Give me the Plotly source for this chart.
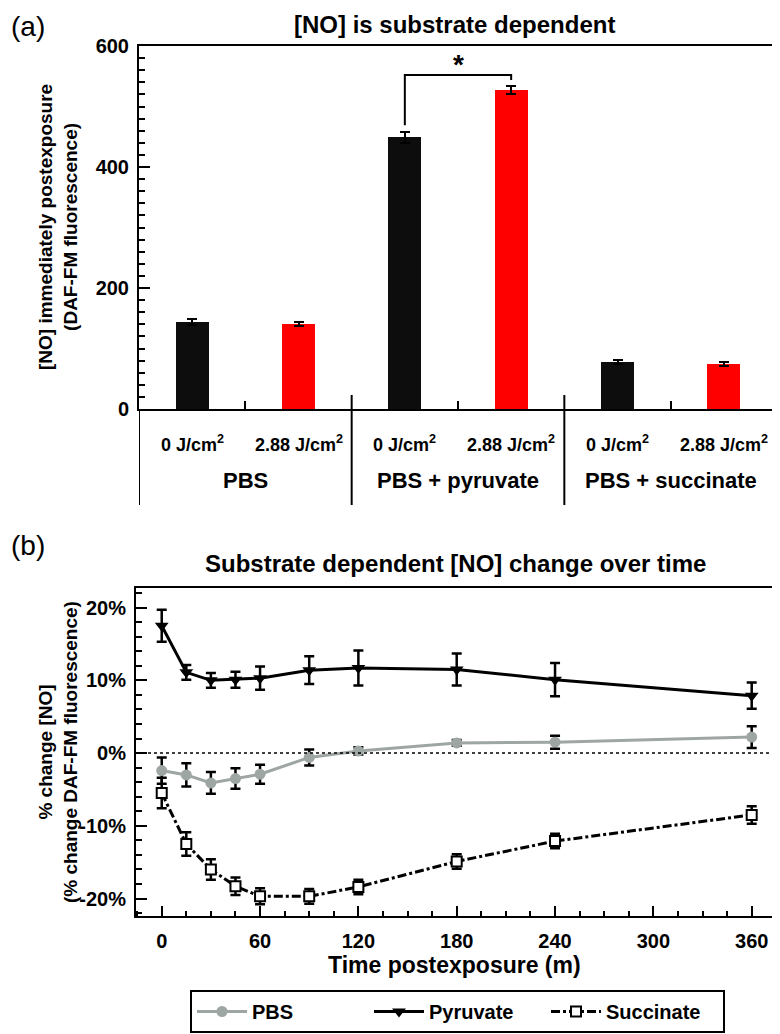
import plotly.graph_objects as go

# panel (a): [NO] immediately after exposure
groups = ["PBS", "PBS + pyruvate", "PBS + succinate"]
doses = ["0 J/cm<sup>2</sup>", "2.88 J/cm<sup>2</sup>"]
no_dark = [144, 449, 78]
no_dark_err = [5, 9, 3]
no_irr = [141, 527, 74]
no_irr_err = [3, 7, 3]

# panel (b): % change over time
time_min = [0, 15, 30, 45, 60, 90, 120, 180, 240, 360]
pbs = [-2.4, -3.0, -4.1, -3.5, -2.9, -0.6, 0.3, 1.4, 1.5, 2.2]
pbs_err = [1.8, 1.6, 1.5, 1.4, 1.3, 1.1, 0.5, 0.4, 0.9, 1.5]
pyruvate = [17.5, 11.1, 10.0, 10.1, 10.3, 11.4, 11.7, 11.5, 10.1, 7.9]
pyruvate_err = [2.2, 1.0, 1.0, 1.1, 1.6, 1.9, 2.4, 2.2, 2.3, 1.8]
succinate = [-5.5, -12.5, -16.0, -18.3, -19.7, -19.7, -18.4, -14.9, -12.1, -8.5]
succinate_err = [2.1, 1.6, 1.4, 1.2, 1.1, 1.0, 1.0, 1.0, 1.0, 1.2]
pct_ticks = [-20, -10, 0, 10, 20]

# page is 780x1034, the body has an 8px margin before the figure starts
W, H, OFF = 780, 1034, 8
FW, FH = W - OFF, H - OFF
FONT = "Liberation Sans, Arial, sans-serif"


def px(x):
    return (x - OFF) / FW


def py(y):
    return 1 - (y - OFF) / FH


fig = go.Figure()

x_dark = [2 * i for i in range(len(groups))]
x_irr = [2 * i + 1 for i in range(len(groups))]

fig.add_trace(go.Bar(
    x=x_dark, y=no_dark, width=0.31, marker=dict(color="#0d0d0d", line_width=0),
    error_y=dict(type="data", array=no_dark_err, color="black", thickness=2, width=5),
    showlegend=False, xaxis="x", yaxis="y"))
fig.add_trace(go.Bar(
    x=x_irr, y=no_irr, width=0.31, marker=dict(color="#ff0000", line_width=0),
    error_y=dict(type="data", array=no_irr_err, color="black", thickness=2, width=5),
    showlegend=False, xaxis="x", yaxis="y"))

fig.add_trace(go.Scatter(
    x=time_min, y=pbs, name="PBS", mode="lines+markers",
    line=dict(color="#9ea6a3", width=3),
    marker=dict(symbol="circle", size=11, color="#9ea6a3"),
    error_y=dict(type="data", array=pbs_err, color="black", thickness=2.5, width=5),
    xaxis="x2", yaxis="y2"))
fig.add_trace(go.Scatter(
    x=time_min, y=pyruvate, name="Pyruvate", mode="lines+markers",
    line=dict(color="black", width=3),
    marker=dict(symbol="triangle-down", size=12, color="black"),
    error_y=dict(type="data", array=pyruvate_err, color="black", thickness=2.5, width=5),
    xaxis="x2", yaxis="y2"))
fig.add_trace(go.Scatter(
    x=time_min, y=succinate, name="Succinate", mode="lines+markers",
    line=dict(color="black", width=3, dash="dashdot"),
    marker=dict(symbol="square", size=10, color="white", line=dict(color="black", width=2)),
    error_y=dict(type="data", array=succinate_err, color="black", thickness=2.5, width=5),
    xaxis="x2", yaxis="y2"))

tick_font = dict(family=FONT, size=20, color="black", weight="bold")
axis_common = dict(showline=True, linecolor="black", linewidth=2, mirror=True,
                   showgrid=False, zeroline=False, ticks="inside", tickwidth=2,
                   tickcolor="black", automargin=False)

fig.update_layout(
    width=FW, height=FH, margin=dict(l=0, r=0, t=0, b=0, autoexpand=False),
    plot_bgcolor="white", paper_bgcolor="white", bargap=0,
    font=dict(family=FONT, color="black"),
    xaxis=dict(domain=[px(139), px(777)], range=[-0.5, 5.5], anchor="y",
               tickvals=[0.5, 2.5, 4.5], ticklen=8, showticklabels=False, **axis_common),
    yaxis=dict(domain=[py(409), py(46)], range=[0, 600], anchor="x",
               tick0=0, dtick=200, ticklen=11, tickfont=tick_font, ticklabelstandoff=4,
               minor=dict(dtick=20, ticks="inside", ticklen=6, tickwidth=2, tickcolor="black"),
               **axis_common),
    xaxis2=dict(domain=[px(136), px(773)], range=[-15.7, 373], anchor="y2",
                tick0=0, dtick=60, ticklen=10, tickfont=tick_font, ticklabelstandoff=6,
                minor=dict(dtick=15, ticks="inside", ticklen=5, tickwidth=2, tickcolor="black"),
                **axis_common),
    yaxis2=dict(domain=[py(916), py(588)], range=[-22.4, 22.7], anchor="x2",
                tickvals=pct_ticks, ticktext=[f"{v}%" for v in pct_ticks],
                ticklen=11, tickfont=tick_font, ticklabelstandoff=4,
                minor=dict(dtick=2, ticks="inside", ticklen=6, tickwidth=2, tickcolor="black"),
                **axis_common),
    legend=dict(orientation="h", x=px(190), y=py(990), xanchor="left", yanchor="top",
                bordercolor="black", borderwidth=2, itemwidth=50,
                entrywidth=112, font=dict(family=FONT, size=20, color="black", weight="bold")),
)

# group dividers and the axis extension below the bars
for xd in [-0.5, 1.5, 3.5, 5.5]:
    top = py(409) if xd in (-0.5, 5.5) else py(395)
    fig.add_shape(type="line", xref="x", yref="paper", x0=xd, x1=xd, y0=top, y1=py(505),
                  line=dict(color="black", width=2))


def label(x, y, text, size, xref="paper", yref="paper", **kw):
    fig.add_annotation(x=x, y=y, xref=xref, yref=yref, text=text, showarrow=False,
                       xanchor=kw.pop("xanchor", "center"), yanchor="middle",
                       font=dict(size=size, weight=kw.pop("weight", "bold")), **kw)


# dose labels and group labels
for i, g in enumerate(groups):
    for j, d in enumerate(doses):
        label(2 * i + j, py(443), d, 18, xref="x")
    label(2 * i + 0.5, py(480), g, 22, xref="x")

# significance bracket
fig.add_shape(type="path", xref="x", yref="y",
              path=f"M {x_dark[1]},{no_dark[1] + 20} L {x_dark[1]},552 L {x_irr[1]},552 L {x_irr[1]},{no_irr[1] + 17}",
              line=dict(color="black", width=2))
label((x_dark[1] + x_irr[1]) / 2, 570, "*", 28, xref="x", yref="y")

# dotted zero line
fig.add_shape(type="line", xref="x2 domain", yref="y2", x0=0, x1=1, y0=0, y1=0,
              line=dict(color="black", width=1.5, dash="dot"))

# titles and panel labels
label(px(455), py(24), "[NO] is substrate dependent", 24)
label(px(456), py(563), "Substrate dependent [NO] change over time", 24)
label(px(9), py(26), "(a)", 28, xanchor="left", weight="normal")
label(px(9), py(545), "(b)", 28, xanchor="left", weight="normal")
label(px(58), py(227), "[NO] immediately postexposure<br>(DAF-FM fluorescence)", 19, textangle=-90)
label(px(58), py(752), "% change [NO]<br>(% change DAF-FM fluorescence)", 19, textangle=-90)
label(px(454), py(965), "Time postexposure (m)", 23)

fig.write_html("out.html")
